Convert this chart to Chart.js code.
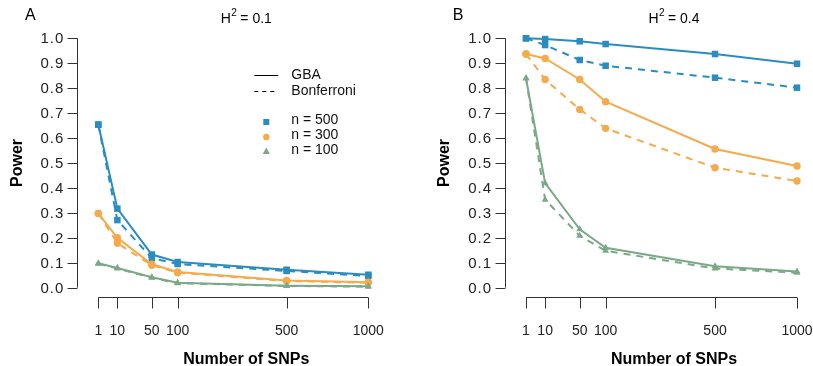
<!DOCTYPE html>
<html>
<head>
<meta charset="utf-8">
<script src="https://cdn.jsdelivr.net/npm/chart.js@4"></script>
<style>
  html, body { margin: 0; padding: 0; background: #fff; }
  #wrap { position: relative; width: 813px; height: 366px; }
  canvas { position: absolute; left: 0; top: 0; }
</style>
</head>
<body>
<div id="wrap">
  <canvas id="panelA" width="813" height="366"></canvas>
  <canvas id="panelB" width="813" height="366"></canvas>
</div>
<script>
// number of SNPs (x axis is on a square-root scale)
const snps = [1, 10, 50, 100, 500, 1000];
const powerTicks = [0, 0.1, 0.2, 0.3, 0.4, 0.5, 0.6, 0.7, 0.8, 0.9, 1.0];

// panel A, H^2 = 0.1
const a500Gba = [0.654, 0.317, 0.133, 0.103, 0.072, 0.052];
const a500Bon = [0.654, 0.271, 0.118, 0.095, 0.067, 0.047];
const a300Gba = [0.298, 0.200, 0.094, 0.063, 0.029, 0.022];
const a300Bon = [0.298, 0.178, 0.090, 0.060, 0.027, 0.020];
const a100Gba = [0.098, 0.079, 0.042, 0.020, 0.008, 0.006];
const a100Bon = [0.096, 0.077, 0.040, 0.018, 0.007, 0.004];

// panel B, H^2 = 0.4
const b500Gba = [1.000, 0.997, 0.988, 0.977, 0.937, 0.898];
const b500Bon = [1.000, 0.973, 0.913, 0.890, 0.842, 0.802];
const b300Gba = [0.937, 0.919, 0.835, 0.746, 0.556, 0.488];
const b300Bon = [0.937, 0.835, 0.715, 0.639, 0.481, 0.428];
const b100Gba = [0.840, 0.419, 0.234, 0.160, 0.086, 0.065];
const b100Bon = [0.840, 0.353, 0.208, 0.148, 0.077, 0.060];

const BLUE = '#2b8cc0';
const ORANGE = '#f5aa4c';
const GREEN = '#7ba887';
const FONT = '"Liberation Sans", Arial, Helvetica, sans-serif';

const toPoints = vals => vals.map((v, i) => ({ x: Math.sqrt(snps[i]), y: v }));

function series(vals, color, style, radius, dashed) {
  return {
    data: toPoints(vals),
    borderColor: color,
    backgroundColor: color,
    borderWidth: 2,
    borderDash: dashed ? [7, 6] : [],
    pointStyle: style,
    pointRadius: radius,
    pointBorderWidth: 0,
    pointBackgroundColor: color,
    tension: 0,
    clip: false,
  };
}

// R-style detached axes, titles and legend
const rAxes = {
  id: 'rAxes',
  afterDraw(chart, args, opts) {
    const { ctx, chartArea: a, scales: { x, y } } = chart;
    ctx.save();
    ctx.strokeStyle = '#333';
    ctx.fillStyle = '#222';
    ctx.lineWidth = 1;

    // y axis
    const ax = Math.round(a.left - 21) + 0.5;
    ctx.beginPath();
    ctx.moveTo(ax, y.getPixelForValue(0));
    ctx.lineTo(ax, y.getPixelForValue(1));
    powerTicks.forEach(t => {
      const py = Math.round(y.getPixelForValue(t)) + 0.5;
      ctx.moveTo(ax, py);
      ctx.lineTo(ax - 10, py);
    });
    ctx.stroke();
    ctx.font = '15px ' + FONT;
    ctx.textAlign = 'right';
    ctx.textBaseline = 'middle';
    ctx.letterSpacing = '1px';
    powerTicks.forEach(t => {
      ctx.fillText(t.toFixed(1), a.left - 34, y.getPixelForValue(t) + 1);
    });
    ctx.letterSpacing = '0px';

    // x axis
    const ay = Math.round(a.bottom + 9) + 0.5;
    ctx.font = '14px ' + FONT;
    ctx.beginPath();
    ctx.moveTo(x.getPixelForValue(Math.sqrt(snps[0])), ay);
    ctx.lineTo(x.getPixelForValue(Math.sqrt(snps[snps.length - 1])), ay);
    snps.forEach(s => {
      const px = Math.round(x.getPixelForValue(Math.sqrt(s))) + 0.5;
      ctx.moveTo(px, ay);
      ctx.lineTo(px, ay + 11);
    });
    ctx.stroke();
    ctx.textAlign = 'center';
    snps.forEach(s => {
      ctx.fillText(String(s), x.getPixelForValue(Math.sqrt(s)), a.bottom + 43);
    });

    // axis titles
    const cx = a.left + 148;
    ctx.font = 'bold 16px ' + FONT;
    ctx.fillStyle = '#000';
    ctx.fillText('Number of SNPs', cx, a.bottom + 72);
    ctx.save();
    ctx.translate(a.left - 81, (a.top + a.bottom) / 2);
    ctx.rotate(-Math.PI / 2);
    ctx.fillText('Power', 0, 0);
    ctx.restore();

    // panel letter
    ctx.font = '16px ' + FONT;
    ctx.textAlign = 'center';
    ctx.fillText(opts.letter, a.left - 68, 16);

    // title H^2 = value
    ctx.font = '14px ' + FONT;
    const wH = ctx.measureText('H').width;
    const rest = ' = ' + opts.h2;
    const wR = ctx.measureText(rest).width;
    ctx.font = '10px ' + FONT;
    const w2 = ctx.measureText('2').width;
    let tx = cx - (wH + w2 + wR) / 2;
    ctx.textAlign = 'left';
    ctx.font = '14px ' + FONT;
    ctx.fillText('H', tx, 19);
    ctx.font = '10px ' + FONT;
    ctx.fillText('2', tx + wH + 0.5, 13);
    ctx.font = '14px ' + FONT;
    ctx.fillText(rest, tx + wH + w2, 19);

    if (opts.legend) {
      const lx = a.left + 156;
      ctx.strokeStyle = '#000';
      ctx.beginPath();
      ctx.moveTo(lx, 75.5);
      ctx.lineTo(lx + 24, 75.5);
      ctx.stroke();
      ctx.setLineDash([4, 4]);
      ctx.beginPath();
      ctx.moveTo(lx, 91.5);
      ctx.lineTo(lx + 24, 91.5);
      ctx.stroke();
      ctx.setLineDash([]);
      ctx.fillStyle = '#111';
      ctx.fillText('GBA', lx + 37, 75);
      ctx.fillText('Bonferroni', lx + 37, 91);
      ctx.fillText('n = 500', lx + 37, 120);
      ctx.fillText('n = 300', lx + 37, 135);
      ctx.fillText('n = 100', lx + 37, 150);
      const mx = lx + 12;
      ctx.fillStyle = BLUE;
      ctx.fillRect(mx - 3, 122 - 3, 6, 6);
      ctx.fillStyle = ORANGE;
      ctx.beginPath();
      ctx.arc(mx, 137, 3.2, 0, Math.PI * 2);
      ctx.fill();
      ctx.fillStyle = GREEN;
      ctx.beginPath();
      ctx.moveTo(mx, 147.5);
      ctx.lineTo(mx + 3.6, 154);
      ctx.lineTo(mx - 3.6, 154);
      ctx.closePath();
      ctx.fill();
    }
    ctx.restore();
  }
};

function makePanel(id, sets, pad, letter, h2, legend) {
  return new Chart(document.getElementById(id), {
    type: 'line',
    data: { datasets: sets },
    plugins: [rAxes],
    options: {
      responsive: false,
      animation: false,
      devicePixelRatio: 1,
      layout: { padding: pad },
      scales: {
        x: { type: 'linear', min: 1, max: Math.sqrt(1000), display: false },
        y: { min: 0, max: 1, display: false },
      },
      plugins: {
        legend: { display: false },
        tooltip: { enabled: false },
        rAxes: { letter: letter, h2: h2, legend: legend },
      },
    },
  });
}

makePanel('panelA', [
  series(a100Gba, GREEN, 'triangle', 4, false),
  series(a100Bon, GREEN, 'triangle', 4, true),
  series(a300Gba, ORANGE, 'circle', 3.7, false),
  series(a300Bon, ORANGE, 'circle', 3.7, true),
  series(a500Gba, BLUE, 'rect', 4.6, false),
  series(a500Bon, BLUE, 'rect', 4.6, true),
], { left: 98.3, right: 813 - 368.3, top: 38.3, bottom: 366 - 287.7 }, 'A', '0.1', true);

makePanel('panelB', [
  series(b100Gba, GREEN, 'triangle', 4, false),
  series(b100Bon, GREEN, 'triangle', 4, true),
  series(b300Gba, ORANGE, 'circle', 3.7, false),
  series(b300Bon, ORANGE, 'circle', 3.7, true),
  series(b500Gba, BLUE, 'rect', 4.6, false),
  series(b500Bon, BLUE, 'rect', 4.6, true),
], { left: 526, right: 813 - 797, top: 38.3, bottom: 366 - 287.7 }, 'B', '0.4', false);
</script>
</body>
</html>
